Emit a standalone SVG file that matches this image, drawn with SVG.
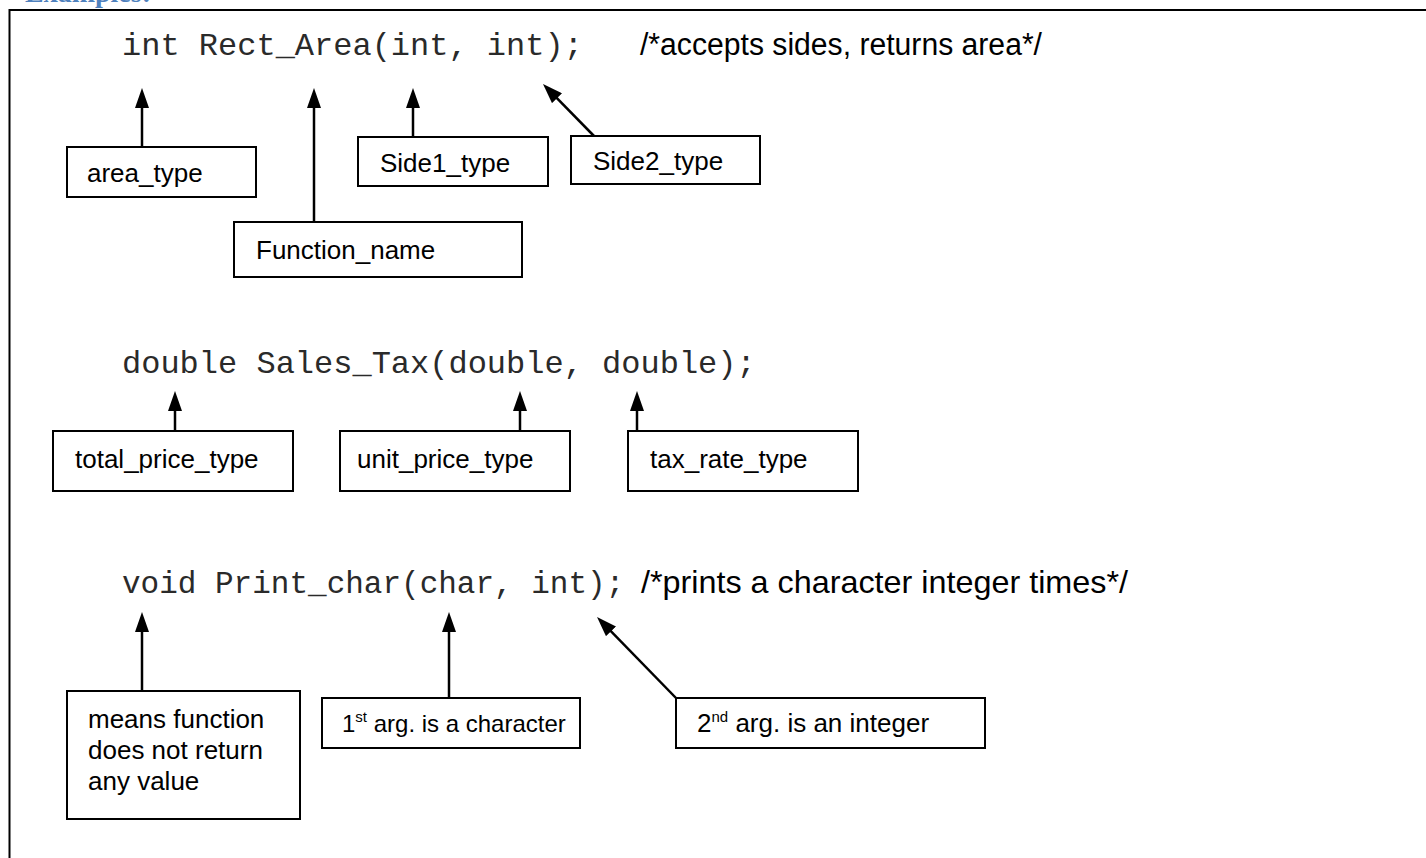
<svg xmlns="http://www.w3.org/2000/svg" width="1426" height="858" viewBox="0 0 1426 858">
  <style>
    .code { font-family: "Liberation Mono", "Courier New", monospace; font-size: 32px; fill: #2a2a2a; }
    .note { font-family: "Liberation Sans", Arial, sans-serif; font-size: 31px; fill: #000; }
    .lbl { font-family: "Liberation Sans", Arial, sans-serif; font-size: 26px; fill: #000; }
    .box { fill: #fff; stroke: #000; stroke-width: 2; }
    .conn { stroke: #000; stroke-width: 2.5; fill: none; marker-end: url(#ah); }
    .head { font-family: "Liberation Serif", "Times New Roman", serif; font-size: 28px; font-weight: bold; fill: #4f81bd; }
  </style>
  <defs>
    <marker id="ah" markerUnits="userSpaceOnUse" markerWidth="20" markerHeight="14" viewBox="0 0 20 14" refX="11" refY="7" orient="auto">
      <path d="M0,0 L20,7 L0,14 z" fill="#000"/>
    </marker>
  </defs>
  <rect width="1426" height="858" fill="#fff"/>

  <!-- section heading, cropped at the top edge -->
  <text class="head" x="25" y="1.5">Examples:</text>

  <!-- frame -->
  <path d="M9.5,858 V10 H1426" fill="none" stroke="#000" stroke-width="2"/>

  <!-- prototype lines -->
  <g id="code">
    <text class="code" x="122" y="55" xml:space="preserve">int Rect_Area(int, int);</text>
    <text class="note" x="640" y="55" textLength="402" lengthAdjust="spacingAndGlyphs">/*accepts sides, returns area*/</text>
    <text class="code" x="122" y="373" xml:space="preserve">double Sales_Tax(double, double);</text>
    <text class="code" x="122" y="593" style="font-size:31px" xml:space="preserve">void Print_char(char, int);</text>
    <text class="note" x="641" y="593" style="font-size:32px" textLength="487" lengthAdjust="spacingAndGlyphs">/*prints a character integer times*/</text>
  </g>

  <!-- connectors -->
  <g id="connectors">
    <line class="conn" x1="142" y1="147" x2="142" y2="97"/>
    <line class="conn" x1="314" y1="222" x2="314" y2="97"/>
    <line class="conn" x1="413" y1="137" x2="413" y2="97"/>
    <line class="conn" x1="594" y1="136" x2="549.3" y2="90.4"/>

    <line class="conn" x1="175" y1="431" x2="175" y2="400"/>
    <line class="conn" x1="520" y1="431" x2="520" y2="400"/>
    <line class="conn" x1="637" y1="431" x2="637" y2="400"/>

    <line class="conn" x1="142" y1="691" x2="142" y2="621"/>
    <line class="conn" x1="449" y1="698" x2="449" y2="621"/>
    <line class="conn" x1="676" y1="698" x2="603.3" y2="623.4"/>
  </g>

  <!-- labels -->
  <g id="area_type">
    <rect class="box" x="67" y="147" width="189" height="50"/>
    <text class="lbl" x="87" y="182">area_type</text>
  </g>
  <g id="function_name">
    <rect class="box" x="234" y="222" width="288" height="55"/>
    <text class="lbl" x="256" y="259">Function_name</text>
  </g>
  <g id="side1_type">
    <rect class="box" x="358" y="137" width="190" height="49"/>
    <text class="lbl" x="380" y="172">Side1_type</text>
  </g>
  <g id="side2_type">
    <rect class="box" x="571" y="136" width="189" height="48"/>
    <text class="lbl" x="593" y="170">Side2_type</text>
  </g>

  <g id="total_price_type">
    <rect class="box" x="53" y="431" width="240" height="60"/>
    <text class="lbl" x="75" y="468">total_price_type</text>
  </g>
  <g id="unit_price_type">
    <rect class="box" x="340" y="431" width="230" height="60"/>
    <text class="lbl" x="357" y="468">unit_price_type</text>
  </g>
  <g id="tax_rate_type">
    <rect class="box" x="628" y="431" width="230" height="60"/>
    <text class="lbl" x="650" y="468">tax_rate_type</text>
  </g>

  <g id="no_return">
    <rect class="box" x="67" y="691" width="233" height="128"/>
    <text class="lbl" x="88" y="728">means function</text>
    <text class="lbl" x="88" y="759">does not return</text>
    <text class="lbl" x="88" y="790">any value</text>
  </g>
  <g id="first_arg">
    <rect class="box" x="322" y="698" width="258" height="50"/>
    <text class="lbl" x="342" y="732" style="font-size:24px">1<tspan font-size="15" dy="-10">st</tspan><tspan dy="10"> arg. is a character</tspan></text>
  </g>
  <g id="second_arg">
    <rect class="box" x="676" y="698" width="309" height="50"/>
    <text class="lbl" x="697" y="732">2<tspan font-size="15" dy="-10">nd</tspan><tspan dy="10"> arg. is an integer</tspan></text>
  </g>
</svg>
